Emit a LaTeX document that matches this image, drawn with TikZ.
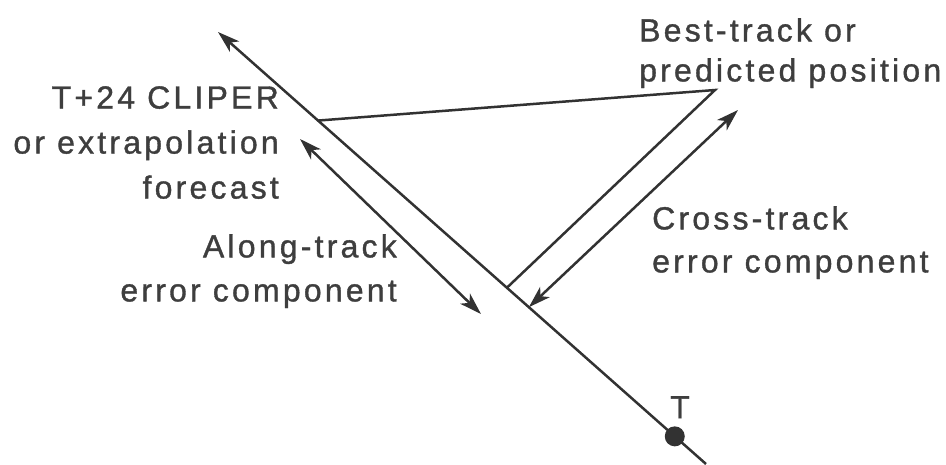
\documentclass[tikz,border=0pt]{standalone}
\usepackage{fontspec}
\setmainfont{Liberation Sans}[LetterSpace=10,FakeBold=1.1]
\usetikzlibrary{arrows.meta,calc}
\definecolor{ink}{RGB}{50,50,50}
\definecolor{txt}{RGB}{62,62,62}
\begin{document}
\begin{tikzpicture}[x=1pt,y=-1pt,
  track/.style={draw=ink,line width=2.5pt},
  lbl/.style={text=txt,inner sep=0pt},
]
\useasboundingbox (0,0) rectangle (946,464);
\coordinate (top) at (218,32);
\coordinate (bot) at (706,464);
\coordinate (F) at ($(top)!0.205!(bot)$);
\coordinate (P) at ($(top)!0.592!(bot)$);
\coordinate (Q) at ($(top)!0.637!(bot)$);
\coordinate (B) at (715,90);
\coordinate (C) at (738,110);
\coordinate (A1) at (300,139);
\coordinate (A2) at (481,314);
% storm track
\draw[track,-{Stealth[length=22pt,width=14pt,inset=6pt]}] (bot) -- (top);
% triangle
\draw[track,line join=miter] (F) -- (B) -- (P);
% cross-track error
\draw[track,{Stealth[length=22pt,width=14pt,inset=6pt]}-{Stealth[length=22pt,width=14pt,inset=6pt]}] (Q) -- (C);
% along-track error
\draw[track,{Stealth[length=22pt,width=14pt,inset=6pt]}-{Stealth[length=22pt,width=14pt,inset=6pt]}] (A1) -- (A2);
% T point
\node[circle,fill=ink,minimum size=20pt,inner sep=0pt] (T) at ($(top)!0.936!(bot)$) {};
\node[lbl,font=\fontsize{32}{38}\selectfont,anchor=north] (Tlab) at (680,396) {T};
% labels
\node[lbl,font=\fontsize{32}{40}\selectfont,align=left,anchor=north west] (best) at (639,18) {Best-track or\\predicted position};
\node[lbl,font=\fontsize{32}{45}\selectfont,align=right,anchor=north east] (clip) at (279,86) {T+24 CLIPER\\or extrapolation\\forecast};
\node[lbl,font=\fontsize{32}{44}\selectfont,align=right,anchor=north east] (along) at (397,234) {Along-track\\error component};
\node[lbl,font=\fontsize{32}{43}\selectfont,align=left,anchor=north west] (cross) at (652,206) {Cross-track\\error component};
\end{tikzpicture}
\end{document}
